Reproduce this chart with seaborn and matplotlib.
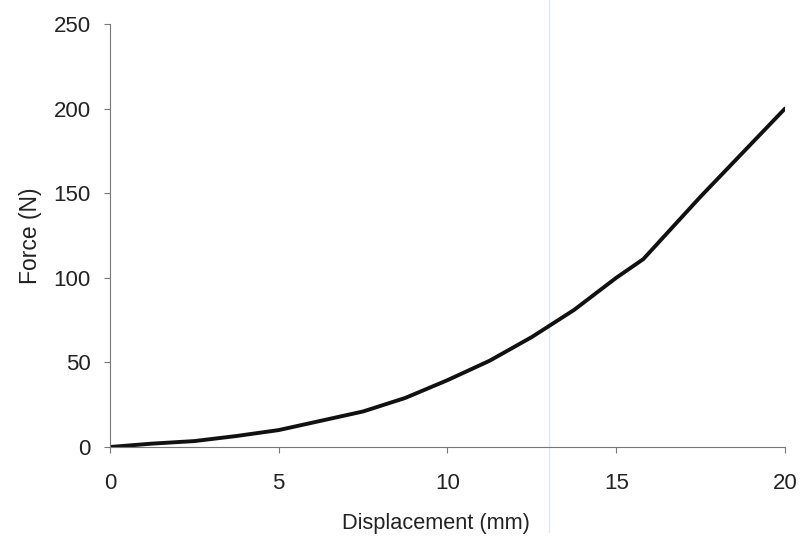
import matplotlib
matplotlib.use("Agg")
import matplotlib.pyplot as plt
import pandas as pd
import seaborn as sns

# force-displacement curve
displacement = [0, 1.25, 2.5, 3.75, 5, 6.25, 7.5, 8.75, 10, 11.25, 12.5, 13.75, 15, 15.8, 17.5, 20]
force = [0, 2, 3.5, 6.5, 10, 15.5, 21, 29, 39.5, 51, 65, 81, 100, 111, 148, 200]

x_ticks = [0, 5, 10, 15, 20]
y_ticks = [0, 50, 100, 150, 200, 250]

sns.set_style("white")
plt.rcParams["font.family"] = ["Liberation Sans", "DejaVu Sans"]

data = pd.DataFrame({"Displacement (mm)": displacement, "Force (N)": force})

fig = plt.figure(figsize=(8.01, 5.37), dpi=100)
ax = fig.add_axes([0.1373, 0.1676, 0.8427, 0.7877])

sns.lineplot(data=data, x="Displacement (mm)", y="Force (N)", ax=ax,
             color="#111111", linewidth=2.8)

# faint scan line in the original
ax.axvline(13, ymin=-0.2, ymax=1.1, color="#cdeefa", linewidth=1, clip_on=False, zorder=0)

ax.set_xlim(0, 20)
ax.set_ylim(0, 250)
ax.set_xticks(x_ticks)
ax.set_yticks(y_ticks)
ax.tick_params(axis="both", direction="out", length=4, width=0.8, color="#777777",
               labelsize=16, labelcolor="#222222")
ax.tick_params(axis="x", pad=15)
ax.tick_params(axis="y", pad=10)
ax.xaxis.set_ticks_position("bottom")
ax.yaxis.set_ticks_position("left")
sns.despine(ax=ax)
for side in ["left", "bottom"]:
    ax.spines[side].set_color("#777777")
    ax.spines[side].set_linewidth(0.8)

ax.set_xlabel("Displacement (mm)", fontsize=15.7, color="#222222")
ax.xaxis.set_label_coords(0.483, -0.155)
ax.set_ylabel("Force (N)", fontsize=16.5, color="#222222", labelpad=8)

fig.savefig("out.png", dpi=100)
